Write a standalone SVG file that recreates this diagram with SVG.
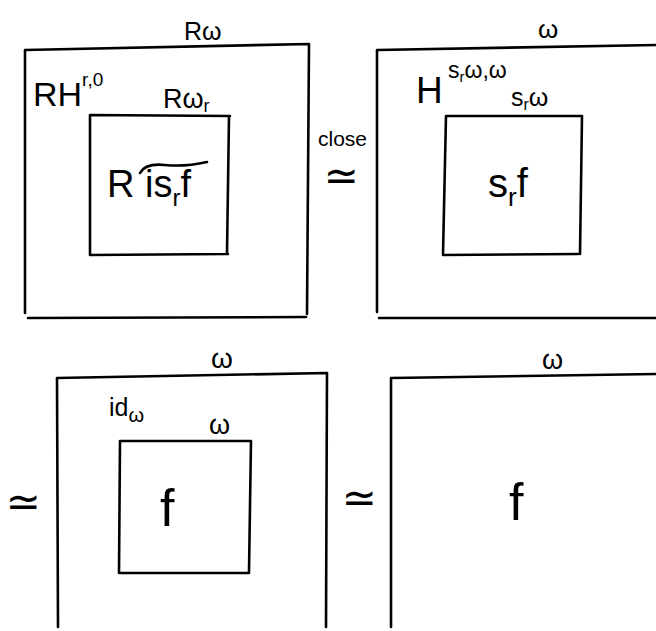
<svg xmlns="http://www.w3.org/2000/svg" width="656" height="631" viewBox="0 0 656 631">
<style>
.ln{fill:none;stroke:#000;stroke-width:2.6;stroke-linecap:round;stroke-linejoin:round}
.t{font-family:"Liberation Sans","DejaVu Sans",sans-serif;fill:#000}
.rel{font-family:"DejaVu Sans","Liberation Sans",sans-serif;fill:#000;font-size:42px;text-anchor:middle}
</style>
<rect width="656" height="631" fill="#fff"/>
<g id="panel-top-left">
  <path class="ln" d="M25,50 L309,44 M25,50 L25,313 M309,44 L307,314 M28,318 L306,317"/>
  <text class="t" x="184" y="40" font-size="25">Rω</text>
  <text class="t" x="33" y="106" font-size="34">RH<tspan font-size="19" dy="-20">r,0</tspan></text>
  <g id="inner-top-left">
    <path class="ln" d="M90,115 L230,116 M90,115 L90,255 M229,116 L227,253 M90,255 L228,254"/>
    <text class="t" x="163" y="108" font-size="27">Rω<tspan font-size="18" dy="4">r</tspan></text>
    <text class="t" x="107" y="197" font-size="38">R <tspan>is</tspan><tspan font-size="24" dy="9">r</tspan><tspan dy="-9">f</tspan></text>
    <path class="ln" d="M140,173 Q145,163 165,165 T207,162" stroke-width="2.2"/>
  </g>
</g>
<g id="panel-top-right">
  <path class="ln" d="M377,50 L656,45 M377,50 L377,312 M379,318 L656,318"/>
  <text class="t" x="538" y="38" font-size="26">ω</text>
  <text class="t" x="416" y="103" font-size="37">H</text>
  <text class="t" x="448" y="78" font-size="23">s<tspan font-size="15" dy="4">r</tspan><tspan dy="-4">ω,ω</tspan></text>
  <g id="inner-top-right">
    <path class="ln" d="M446,116 L582,116 M446,116 L443,254 M582,116 L580,254 M443,255 L578,254"/>
    <text class="t" x="511" y="106" font-size="25">s<tspan font-size="16" dy="4">r</tspan><tspan dy="-4">ω</tspan></text>
    <text class="t" x="488" y="197" font-size="40">s<tspan font-size="26" dy="9">r</tspan><tspan dy="-9">f</tspan></text>
  </g>
</g>
<g id="panel-bottom-left">
  <path class="ln" d="M57,378 L327,373 M57,378 L58,627 M327,373 L326,627"/>
  <text class="t" x="211" y="368" font-size="28">ω</text>
  <text class="t" x="109" y="416" font-size="25">id<tspan font-size="20" dy="6">ω</tspan></text>
  <g id="inner-bottom-left">
    <path class="ln" d="M120,441 L251,441 M120,441 L119,573 M251,441 L249,572 M119,573 L249,573"/>
    <text class="t" x="209" y="434" font-size="27">ω</text>
    <text class="t" x="160" y="526" font-size="52">f</text>
  </g>
</g>
<g id="panel-bottom-right">
  <path class="ln" d="M391,378 L656,374 M391,378 L391,627"/>
  <text class="t" x="542" y="369" font-size="27">ω</text>
  <text class="t" x="509" y="520" font-size="52">f</text>
</g>
<g id="connectors">
  <text class="t" x="318" y="146" font-size="21">close</text>
  <text class="rel" x="341" y="190">≃</text>
  <text class="rel" x="23" y="516">≃</text>
  <text class="rel" x="359" y="512">≃</text>
</g>
</svg>
